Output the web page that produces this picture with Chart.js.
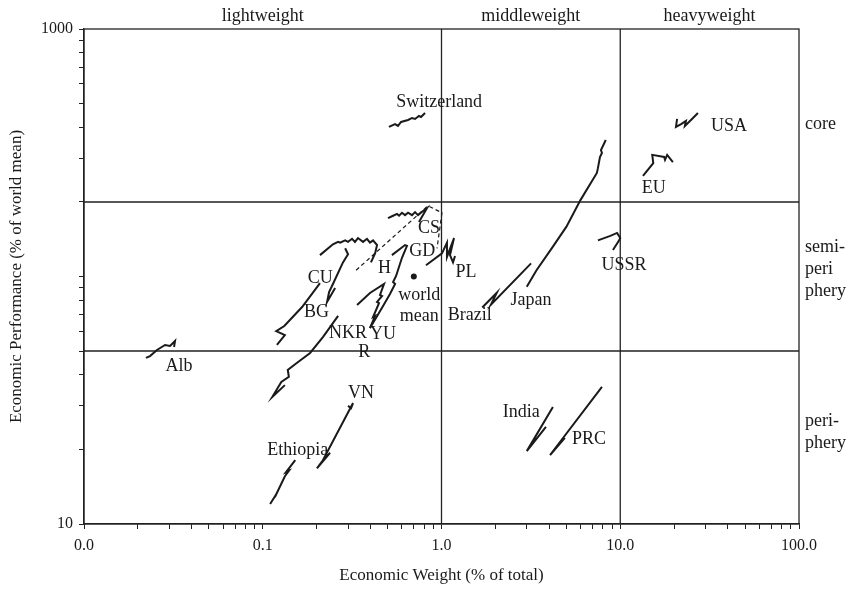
<!DOCTYPE html>
<html>
<head>
<meta charset="utf-8">
<title>Economic weight and performance</title>
<script src="https://cdn.jsdelivr.net/npm/chart.js@4.4.0/dist/chart.umd.min.js"></script>
<style>
  html, body { margin: 0; padding: 0; background: #fff; }
  canvas { display: block; }
</style>
</head>
<body>
<canvas id="weightChart" width="861" height="590"></canvas>
<script>
// Country paths: [economic weight (% of total), economic performance (% of world mean)]
const switzerland = [[0.508,402],[0.550,413],[0.571,406],[0.594,421],[0.650,429],[0.684,437],[0.711,433],[0.748,445],[0.768,441],[0.809,458]];
const usa = [[20.8,433],[20.5,402],[21.9,413],[23.3,425],[23.0,406],[25.2,433],[27.2,458]];
const eu = [[13.4,255],[15.3,287],[15.1,310],[17.6,304],[17.8,296],[18.3,310],[19.7,290]];
const ussr = [[7.5,140],[8.8,146],[9.6,150],[10.0,143],[9.8,139],[9.1,128]];
const japan = [[3.0,91],[3.4,106],[4.2,132],[5.0,159],[6.0,204],[7.4,262],[7.5,274],[7.7,304],[7.9,316],[7.8,324],[8.3,356]];
const brazil = [[1.69,75],[2.04,86],[1.89,77],[3.17,113]];
const india = [[4.2,29.7],[3.0,19.7],[3.84,24.7]];
const prc = [[7.9,35.8],[4.05,19.0],[4.9,22.3]];
const poland = [[0.819,111],[1.006,124],[1.073,137],[1.073,120],[1.175,143],[1.116,122],[1.16,114],[1.19,121]];
const czech = [[0.502,172],[0.536,176],[0.564,179],[0.579,176],[0.601,181],[0.625,177],[0.650,181],[0.684,177],[0.711,182],[0.739,177],[0.788,184],[0.830,189],[0.748,166]];
const czechAlt = [[0.333,106],[0.840,193],[1.006,181],[0.944,130]];
const gdr = [[0.528,122],[0.625,134],[0.641,133],[0.601,119],[0.557,100.5],[0.536,95.0],[0.550,93.3],[0.515,85.0],[0.471,76.0],[0.430,68.0],[0.398,61.9]];
const hungary = [[0.337,76.7],[0.398,85.8],[0.477,93.3],[0.453,84.2],[0.465,83.4],[0.436,78.9],[0.447,78.1],[0.414,68.6],[0.425,69.3],[0.398,61.9]];
const cuba = [[0.209,122],[0.247,135],[0.264,138],[0.271,137],[0.289,140],[0.300,138],[0.316,142],[0.328,138],[0.341,143],[0.364,138],[0.383,142],[0.398,137],[0.414,140],[0.436,134],[0.425,124],[0.403,114]];
const bulgaria = [[0.289,130],[0.300,123],[0.281,114],[0.247,93.3],[0.235,86.6],[0.229,78.9],[0.254,89.9]];
const romania = [[0.209,94.1],[0.166,75.3],[0.132,63.1],[0.119,60.2],[0.133,58.0],[0.120,52.9]];
const northKorea = [[0.264,69.3],[0.217,56.9],[0.184,49.1],[0.155,44.7],[0.138,41.9],[0.140,39.3],[0.127,37.5],[0.113,32.6],[0.133,36.4]];
const albania = [[0.0222,46.9],[0.0234,47.7],[0.0256,50.5],[0.0284,52.9],[0.0303,52.4],[0.0323,54.9],[0.0319,51.9]];
const vietnam = [[0.300,30.0],[0.312,29.4],[0.320,30.8],[0.217,18.1],[0.201,16.8],[0.238,19.4]];
const ethiopia = [[0.110,12.05],[0.119,13.2],[0.117,12.86],[0.133,15.6],[0.140,16.4],[0.135,16.2],[0.152,18.1]];
const worldMean = [[0.7,100]];

// Axis ranges, ticks and class boundaries
const xDecades = [0.01, 0.1, 1, 10, 100];
const xTickLabels = ['0.0', '0.1', '1.0', '10.0', '100.0'];
const yDecades = [10, 100, 1000];
const yTickLabels = ['10', '', '1000'];
const weightBounds = [1, 10];
const performanceBounds = [50, 200];
const weightClasses = ['lightweight', 'middleweight', 'heavyweight'];
const weightClassCenters = [0.1, 3.16, 31.6];
const zoneNames = [['core'], ['semi-', 'peri', 'phery'], ['peri-', 'phery']];
const zoneCenters = [413, 107, 23.5];

// Name tags: [text, weight, performance]
const countryLabels = [
  ['Switzerland', 0.97, 507], ['USA', 40.6, 406], ['EU', 15.4, 228], ['USSR', 10.5, 111],
  ['Japan', 3.17, 80.4], ['Brazil', 1.44, 70], ['PL', 1.37, 104], ['CS', 0.85, 156],
  ['GD', 0.78, 126], ['H', 0.48, 108], ['CU', 0.21, 98.6], ['BG', 0.20, 72],
  ['NKR', 0.30, 59], ['YU', 0.47, 58.6], ['R', 0.37, 49.5], ['world', 0.75, 84],
  ['mean', 0.75, 69.3], ['Alb', 0.034, 43.5], ['VN', 0.355, 33.8], ['Ethiopia', 0.157, 19.9],
  ['India', 2.79, 28.4], ['PRC', 6.69, 21.9]
];

const serif = '"Liberation Serif", "Times New Roman", serif';
const ink = '#1a1a1a';

function logTicks(decades) {
  const out = [];
  for (let i = 0; i < decades.length - 1; i++) {
    for (let k = 1; k < 10; k++) out.push(k * decades[i]);
  }
  out.push(decades[decades.length - 1]);
  return out;
}

function decadeLabel(value, decades, labels) {
  const i = decades.findIndex(d => Math.abs(value - d) / d < 1e-6);
  return i >= 0 ? labels[i] : '';
}

function path(points, label, extra) {
  return Object.assign({
    label: label,
    data: points.map(p => ({ x: p[0], y: p[1] })),
    showLine: true,
    borderColor: ink,
    borderWidth: 2,
    pointRadius: 0,
    tension: 0
  }, extra || {});
}

const datasets = [
  path(switzerland, 'Switzerland'), path(usa, 'USA'), path(eu, 'EU'), path(ussr, 'USSR'),
  path(japan, 'Japan'), path(brazil, 'Brazil'), path(india, 'India'), path(prc, 'PRC'),
  path(poland, 'PL'), path(czech, 'CS'), path(czechAlt, 'CS alt', { borderWidth: 1.2, borderDash: [4, 3] }),
  path(gdr, 'GD'), path(hungary, 'H'), path(cuba, 'CU'), path(bulgaria, 'BG'),
  path(romania, 'R'), path(northKorea, 'NKR'), path(albania, 'Alb'), path(vietnam, 'VN'),
  path(ethiopia, 'Ethiopia'),
  path(worldMean, 'world mean', { showLine: false, pointRadius: 3, backgroundColor: ink, borderWidth: 0 })
];

// Frame, class boundaries and all free-standing text
const frameAndLabels = {
  id: 'frameAndLabels',
  beforeDatasetsDraw(chart) {
    const { ctx, chartArea: a, scales: { x, y } } = chart;
    ctx.save();
    ctx.strokeStyle = '#222';
    ctx.lineWidth = 1.3;
    ctx.strokeRect(a.left, a.top, a.right - a.left, a.bottom - a.top);
    ctx.beginPath();
    weightBounds.forEach(v => {
      const px = x.getPixelForValue(v);
      ctx.moveTo(px, a.top);
      ctx.lineTo(px, a.bottom);
    });
    performanceBounds.forEach(v => {
      const py = y.getPixelForValue(v);
      ctx.moveTo(a.left, py);
      ctx.lineTo(a.right, py);
    });
    ctx.stroke();
    ctx.restore();
  },
  afterDatasetsDraw(chart) {
    const { ctx, chartArea: a, scales: { x, y } } = chart;
    ctx.save();
    ctx.fillStyle = ink;
    ctx.font = '18px ' + serif;
    ctx.textBaseline = 'middle';

    ctx.textAlign = 'center';
    countryLabels.forEach(([t, w, p]) => ctx.fillText(t, x.getPixelForValue(w), y.getPixelForValue(p)));
    weightClasses.forEach((t, i) => ctx.fillText(t, x.getPixelForValue(weightClassCenters[i]), a.top - 13));

    ctx.textAlign = 'left';
    zoneNames.forEach((lines, i) => {
      const cy = y.getPixelForValue(zoneCenters[i]);
      const start = cy - (lines.length - 1) * 11;
      lines.forEach((t, j) => ctx.fillText(t, a.right + 6, start + j * 22));
    });
    ctx.restore();
  }
};

new Chart(document.getElementById('weightChart'), {
  type: 'scatter',
  data: { datasets: datasets },
  options: {
    responsive: false,
    animation: false,
    layout: { padding: { top: 29, right: 62, bottom: 0, left: 0 } },
    plugins: { legend: { display: false }, tooltip: { enabled: false } },
    scales: {
      x: {
        type: 'logarithmic',
        min: 0.01,
        max: 100,
        afterBuildTicks: s => { s.ticks = logTicks(xDecades).map(v => ({ value: v })); },
        afterFit: s => { s.height = 66; },
        ticks: {
          autoSkip: false,
          maxRotation: 0,
          padding: 7,
          color: ink,
          font: { family: serif, size: 16 },
          callback: v => decadeLabel(v, xDecades, xTickLabels)
        },
        grid: { drawOnChartArea: false, tickLength: 5, color: '#222', lineWidth: 1 },
        border: { color: '#222', width: 1.3 },
        title: {
          display: true,
          text: 'Economic Weight (% of total)',
          color: ink,
          font: { family: serif, size: 17 },
          padding: { top: 0, bottom: 4 }
        }
      },
      y: {
        type: 'logarithmic',
        min: 10,
        max: 1000,
        afterBuildTicks: s => { s.ticks = logTicks(yDecades).map(v => ({ value: v })); },
        afterFit: s => { s.width = 84; },
        ticks: {
          autoSkip: false,
          padding: 6,
          color: ink,
          font: { family: serif, size: 16 },
          callback: v => decadeLabel(v, yDecades, yTickLabels)
        },
        grid: { drawOnChartArea: false, tickLength: 5, color: '#222', lineWidth: 1 },
        border: { color: '#222', width: 1.3 },
        title: {
          display: true,
          text: 'Economic Performance (% of world mean)',
          color: ink,
          font: { family: serif, size: 17 },
          padding: { top: 6, bottom: 0 }
        }
      }
    }
  },
  plugins: [frameAndLabels]
});
</script>
</body>
</html>
